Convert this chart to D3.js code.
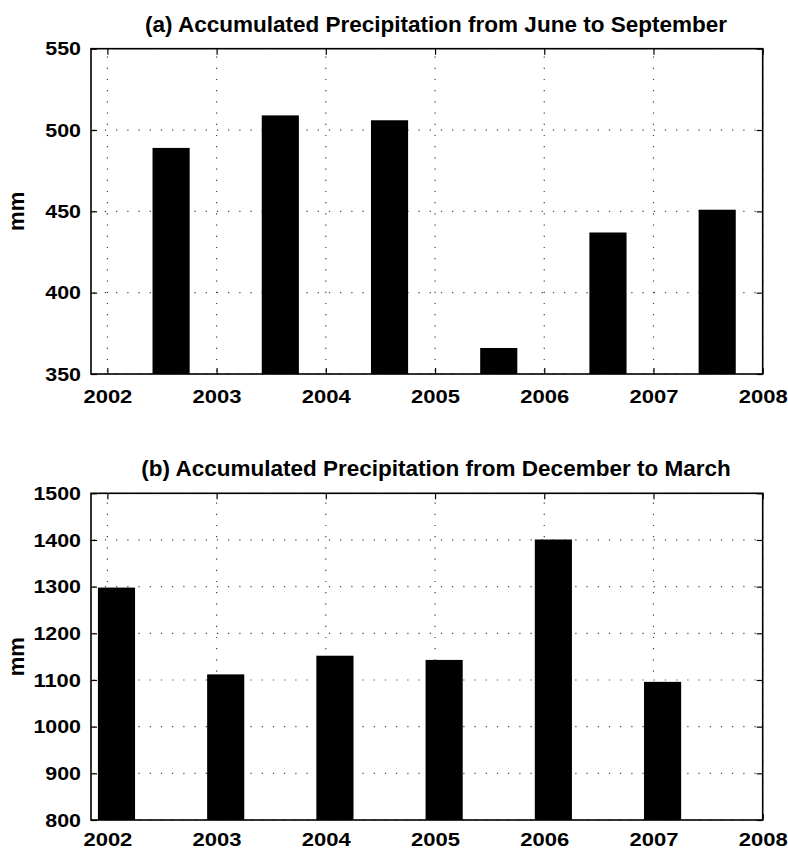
<!DOCTYPE html>
<html>
<head>
<meta charset="utf-8">
<script src="https://cdn.jsdelivr.net/npm/d3@7"></script>
<style>
  html, body { margin: 0; padding: 0; background: #fff; }
  svg { display: block; }
  text { font-family: "Liberation Sans", Arial, Helvetica, sans-serif; font-weight: bold; fill: #000; }
</style>
</head>
<body>
<svg id="chart" width="788" height="850"></svg>
<script>
// Seasonal precipitation totals (mm)
const years = [2002, 2003, 2004, 2005, 2006, 2007];
const summerTotals = [489, 509, 506, 366, 437, 451];        // June–September
const winterTotals = [1298, 1112, 1152, 1143, 1401, 1096];  // December–March
const xTicks = [2002, 2003, 2004, 2005, 2006, 2007, 2008];
const summerTicks = [350, 400, 450, 500, 550];
const winterTicks = [800, 900, 1000, 1100, 1200, 1300, 1400, 1500];

const panels = [
  {
    title: "(a) Accumulated Precipitation from June to September",
    titleWidth: 582,
    values: summerTotals, yDomain: [350, 550], yTicks: summerTicks,
    barOffset: 7 / 12, top: 48.7, bottom: 374, titleY: 32, labelDrop: 28.5
  },
  {
    title: "(b) Accumulated Precipitation from December to March",
    titleWidth: 589.5,
    values: winterTotals, yDomain: [800, 1500], yTicks: winterTicks,
    barOffset: 1 / 12, top: 493.3, bottom: 820, titleY: 476, labelDrop: 25.5
  }
];

const svg = d3.select("#chart");
const left = 91, right = 762.7;
const barWidth = 0.34; // in years
const tickLen = 6;
const digitW = 11.9;

panels.forEach(p => {
  const x = d3.scaleLinear().domain([2001.85, 2008]).range([left, right]);
  const y = d3.scaleLinear().domain(p.yDomain).range([p.bottom, p.top]);
  const g = svg.append("g");

  // dotted grid
  const grid = g.append("g")
    .attr("stroke", "#444").attr("stroke-width", 1.2)
    .attr("stroke-dasharray", "1.2,10").attr("stroke-dashoffset", 8.5)
    .attr("fill", "none");
  grid.selectAll("line.h").data(p.yTicks).join("line").attr("class", "h")
    .attr("x1", left).attr("x2", right)
    .attr("y1", d => y(d)).attr("y2", d => y(d));
  grid.selectAll("line.v").data(xTicks).join("line").attr("class", "v")
    .attr("x1", d => x(d)).attr("x2", d => x(d))
    .attr("y1", p.bottom).attr("y2", p.top);

  // bars
  g.append("g").selectAll("rect").data(years).join("rect")
    .attr("x", (d) => x(d + p.barOffset - barWidth / 2))
    .attr("width", (d) => x(d + p.barOffset + barWidth / 2) - x(d + p.barOffset - barWidth / 2))
    .attr("y", (d, i) => y(p.values[i]))
    .attr("height", (d, i) => p.bottom - y(p.values[i]))
    .attr("fill", "#000");

  // axes (ticks pointing inward, on all four sides)
  const styleAxis = sel => {
    sel.select(".domain").remove();
    sel.selectAll(".tick line").attr("stroke", "#000").attr("stroke-width", 1.2);
  };
  const xAxis = g.append("g").attr("transform", `translate(0,${p.bottom})`)
    .call(d3.axisBottom(x).tickValues(xTicks).tickFormat(d3.format("d"))
      .tickSizeInner(-tickLen).tickSizeOuter(0))
    .call(styleAxis);
  xAxis.selectAll("text")
    .attr("font-size", "19px")
    .attr("y", p.labelDrop)
    .attr("dy", null)
    .attr("textLength", d => String(d).length * 12.25)
    .attr("lengthAdjust", "spacingAndGlyphs");

  g.append("g").attr("transform", `translate(0,${p.top})`)
    .call(d3.axisTop(x).tickValues(xTicks).tickFormat("")
      .tickSizeInner(-tickLen).tickSizeOuter(0))
    .call(styleAxis);

  const yAxis = g.append("g").attr("transform", `translate(${left},0)`)
    .call(d3.axisLeft(y).tickValues(p.yTicks).tickFormat(d3.format("d"))
      .tickSizeInner(-tickLen).tickSizeOuter(0).tickPadding(10))
    .call(styleAxis);
  yAxis.selectAll("text")
    .attr("font-size", "19px")
    .attr("textLength", d => String(d).length * digitW)
    .attr("lengthAdjust", "spacingAndGlyphs");

  g.append("g").attr("transform", `translate(${right},0)`)
    .call(d3.axisRight(y).tickValues(p.yTicks).tickFormat("")
      .tickSizeInner(-tickLen).tickSizeOuter(0))
    .call(styleAxis);

  // frame
  g.append("rect")
    .attr("x", left).attr("y", p.top)
    .attr("width", right - left).attr("height", p.bottom - p.top)
    .attr("fill", "none").attr("stroke", "#000").attr("stroke-width", 1.6);

  // title
  g.append("text")
    .attr("x", 436).attr("y", p.titleY)
    .attr("text-anchor", "middle")
    .attr("font-size", "21.5px")
    .attr("textLength", p.titleWidth)
    .attr("lengthAdjust", "spacingAndGlyphs")
    .text(p.title);

  // y label
  g.append("text")
    .attr("transform", `translate(23.5,${(p.top + p.bottom) / 2}) rotate(-90)`)
    .attr("text-anchor", "middle")
    .attr("font-size", "22px")
    .text("mm");
});
</script>
</body>
</html>
